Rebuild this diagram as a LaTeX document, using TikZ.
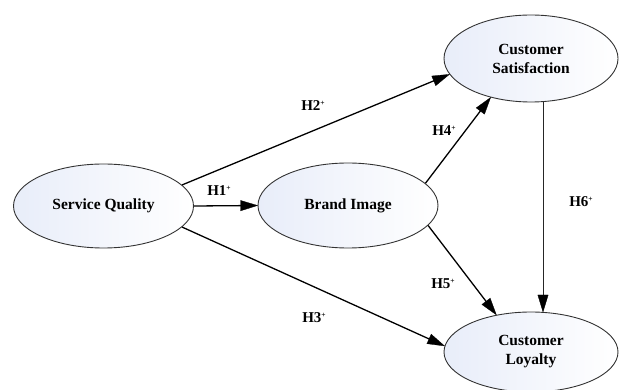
\documentclass[tikz,border=0pt]{standalone}
\usepackage{fontspec}
\setmainfont{Liberation Serif}
\usetikzlibrary{shapes.geometric,calc}
\definecolor{fillL}{RGB}{232,237,249}
\tikzset{
  construct/.style={ellipse, draw=black!80, line width=0.9pt, left color=fillL, right color=white,
    minimum width=#1, minimum height=84pt, inner sep=0pt, align=center,
    font=\fontsize{15.5}{19}\selectfont\bfseries},
  link/.style={line width=1.3pt},
  thinlink/.style={line width=0.9pt, draw=black!85},
  headfill/.style={fill=black, draw=black, line width=0.3pt, line join=miter},
  hyp/.style={font=\fontsize{15}{16}\selectfont\bfseries, inner sep=1pt}
}
\newcommand\plussup{\raisebox{5.5pt}{\fontsize{7.5}{8}\selectfont +}}
\newcommand\linkto[3][link]{%
  \draw[#1] (#2) -- ($(#3)!8pt!(#2)$);
  \filldraw[headfill] (#3) -- ($($(#3)!17pt!(#2)$)!5.2pt!90:(#3)$) -- ($($(#3)!17pt!(#2)$)!5.2pt!-90:(#3)$) -- cycle;
}
\begin{document}
\begin{tikzpicture}
\useasboundingbox (0,0) rectangle (619pt,-390pt);
\node[construct=180pt] (sq) at (103.5pt,-206pt) {Service Quality};
\node[construct=180pt, minimum height=85pt] (bi) at (348pt,-205.5pt) {Brand Image};
\node[construct=174pt, minimum height=87pt] (cs) at (531pt,-58.5pt) {Customer\\Satisfaction};
\node[construct=174pt, minimum height=80pt] (cl) at (531pt,-352pt) {Customer\\Loyalty};
\coordinate (csb) at (543pt,-102pt);
\coordinate (clt) at (543pt,-312pt);
\linkto{sq.east}{bi.west}
\linkto{sq.15}{cs.191}
\linkto{sq.-15}{cl.176}
\linkto{bi.16}{cs.224}
\linkto{bi.-14}{cl.133}
\linkto[thinlink]{csb}{clt}
\node[hyp] (h1) at (219pt,-191pt) {H1\plussup};
\node[hyp] (h2) at (313pt,-106pt) {H2\plussup};
\node[hyp] (h3) at (314pt,-318pt) {H3\plussup};
\node[hyp] (h4) at (444pt,-131pt) {H4\plussup};
\node[hyp] (h5) at (443pt,-284pt) {H5\plussup};
\node[hyp] (h6) at (581pt,-202pt) {H6\plussup};
\end{tikzpicture}
\end{document}
